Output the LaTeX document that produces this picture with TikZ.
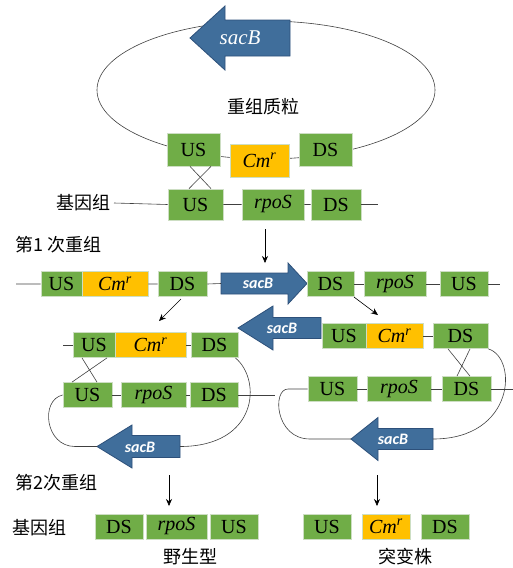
\documentclass[tikz,border=0pt]{standalone}
\usepackage{fontspec}
\setmainfont{Liberation Serif}
\newfontfamily\genefont{Liberation Serif}
\newfontfamily\sacfont{Carlito}
\newfontfamily\cjk{Noto Sans CJK SC}
\usetikzlibrary{arrows.meta}
\definecolor{genegreen}{RGB}{112,173,71}
\definecolor{geneedge}{RGB}{205,222,195}
\definecolor{cmorange}{RGB}{255,192,0}
\definecolor{sacblue}{RGB}{64,110,155}
\definecolor{sacedge}{RGB}{45,80,122}
\newcommand{\cmres}{\textit{Cm}\textsuperscript{\textit{r}}}
\tikzset{
  gbox/.style={fill=genegreen,draw=geneedge,line width=0.8pt,inner sep=0pt,
    minimum height=25,font=\genefont\fontsize{20}{22}\selectfont},
  cbox/.style={gbox,fill=cmorange},
  dna/.style={line width=0.6pt,black!75},
  sac/.style={fill=sacblue,draw=sacedge,line width=0.8pt},
  sactext/.style={text=white,inner sep=0pt,font=\sacfont\bfseries\itshape\fontsize{16}{18}\selectfont},
  lab/.style={inner sep=0pt,font=\cjk\fontsize{18}{21}\selectfont},
  pointer/.style={-{Stealth[length=7pt,width=6pt]},line width=0.6pt}
}
\begin{document}
\begin{tikzpicture}[x=1pt,y=-1pt]
\useasboundingbox (0,0) rectangle (513,568);
% plasmid
\draw[dna] (266,90) ellipse [x radius=169, y radius=69];
\draw[sac] (190,38)--(225,6)--(225,20)--(290,20)--(290,56)--(225,56)--(225,70)--cycle;
\node[text=white,inner sep=0pt,font=\genefont\itshape\fontsize{21}{24}\selectfont] (sacP) at (240,38) {sacB};
\node[lab] (plasmid) at (263,107) {重组质粒};
\node[gbox,minimum width=53,minimum height=33] (pUS) at (193.5,149.5) {US};
\node[cbox,minimum width=59,minimum height=33] (pCm) at (259.5,160.5) {\cmres};
\node[gbox,minimum width=53,minimum height=33] (pDS) at (325.5,149.5) {DS};
% genome
\node[lab,anchor=east] (genome) at (111,203) {基因组};
\node[gbox,minimum width=55,minimum height=31] (gUS) at (195.5,204.5) {US};
\node[gbox,minimum width=62,minimum height=31] (gRpo) at (273,204.5) {\textit{rpoS}};
\node[gbox,minimum width=50,minimum height=31] (gDS) at (336,204.5) {DS};
\draw[dna] ([xshift=3]genome.east)--(gUS.west) (gUS.east)--(gRpo.west) (gRpo.east)--(gDS.west);
\draw[dna] (gDS.east)--(378,204.5);
\draw[dna] ([xshift=-3.5]pUS.south)--([xshift=15.5]gUS.north);
\draw[dna] ([xshift=17.5]pUS.south)--([xshift=-6.5]gUS.north);
\coordinate (c1a) at (265,229);
\coordinate (c1b) at (265,263);
\draw[pointer] (c1a)--(c1b);
% first crossover
\node[lab,anchor=west] (first) at (15,245) {第1 次重组};
\node[gbox,minimum width=41] (r1US) at (61.5,284) {US};
\node[cbox,minimum width=66] (r1Cm) at (115,284) {\cmres};
\node[gbox,minimum width=49] (r1DS) at (182.5,284) {DS};
\draw[sac] (221,273)--(288,273)--(288,263)--(307,283.5)--(288,304)--(288,294)--(221,294)--cycle;
\coordinate (s1l) at (221,283.5);
\node[sactext] (sac1) at (258,283) {sacB};
\node[gbox,minimum width=47] (r1DSb) at (330.5,284) {DS};
\node[gbox,minimum width=62] (r1Rpo) at (395,284) {\textit{rpoS}};
\node[gbox,minimum width=48] (r1USb) at (464,284) {US};
\draw[dna] (16,284)--(r1US.west) (r1Cm.east)--(r1DS.west) (r1DS.east)--(s1l);
\draw[dna] (r1DSb.east)--(r1Rpo.west) (r1Rpo.east)--(r1USb.west) (r1USb.east)--(500,284);
\coordinate (c2a) at (181,299);
\coordinate (c2b) at (159,321);
\coordinate (c3a) at (354,297);
\coordinate (c3b) at (378,315);
\draw[pointer] (c2a)--(c2b);
\draw[pointer] (c3a)--(c3b);
% left branch
\node[gbox,minimum width=42] (aUS) at (94,345) {US};
\node[cbox,minimum width=71] (aCm) at (150.5,345) {\cmres};
\node[gbox,minimum width=47] (aDS) at (214.5,345) {DS};
\node[gbox,minimum width=49] (bUS) at (87.5,395) {US};
\node[gbox,minimum width=65] (bRpo) at (153.5,395) {\textit{rpoS}};
\node[gbox,minimum width=48] (bDS) at (214,395) {DS};
\draw[dna] (63,345)--(aUS.west) (aCm.east)--(aDS.west);
\draw[dna] (bUS.east)--(bRpo.west) (bRpo.east)--(bDS.west) (bDS.east)--(275,395);
\draw[dna] ([xshift=-12]aUS.south)--([xshift=9.5]bUS.north);
\draw[dna] ([xshift=13]aUS.south)--([xshift=-15.5]bUS.north);
\draw[sac] (97,446.5)--(132,425)--(132,435.5)--(180,435.5)--(180,457.5)--(132,457.5)--(132,468)--cycle;
\coordinate (s3t) at (97,446.5);
\coordinate (s3r) at (180,446.5);
\node[sactext] (sac3) at (140,447) {sacB};
\draw[dna] ([xshift=-3]aDS.south east) .. controls (262,380) and (258,446.5) .. (s3r);
\draw[dna] (s3t)--(75,446.5) .. controls (45,446.5) and (40,400) .. (bUS.west);
% right branch
\draw[sac] (238,328)--(273,306)--(273,317.5)--(321,317.5)--(321,338.5)--(273,338.5)--(273,350)--cycle;
\node[sactext] (sac2) at (282,328) {sacB};
\node[gbox,minimum width=44] (cUS) at (344,336) {US};
\node[cbox,minimum width=57] (cCm) at (394.5,336) {\cmres};
\node[gbox,minimum width=55] (cDS) at (460.5,336) {DS};
\node[gbox,minimum width=49] (dUS) at (332.5,389) {US};
\node[gbox,minimum width=64] (dRpo) at (399,389) {\textit{rpoS}};
\node[gbox,minimum width=49] (dDS) at (466.5,389) {DS};
\draw[dna] (cCm.east)--(cDS.west);
\draw[dna] (dUS.east)--(dRpo.west) (dRpo.east)--(dDS.west) (dDS.east)--(513,389);
\draw[dna] ([xshift=-12.5]cDS.south)--([xshift=3.5]dDS.north);
\draw[dna] ([xshift=9.5]cDS.south)--([xshift=-9.5]dDS.north);
\draw[sac] (351,439)--(378,417.5)--(378,428.5)--(433,428.5)--(433,449.5)--(378,449.5)--(378,460.5)--cycle;
\coordinate (s4t) at (351,439);
\coordinate (s4r) at (433,439);
\node[sactext] (sac4) at (393,439) {sacB};
\draw[dna] (cDS.south east) .. controls (518,358) and (515,439) .. (s4r);
\draw[dna] (s4t)--(310,439) .. controls (275,439) and (272,389) .. (288,389)--(dUS.west);
% second crossover
\node[lab,anchor=west] (second) at (15,483) {第2次重组};
\coordinate (c4a) at (169,475);
\coordinate (c4b) at (169,506);
\coordinate (c5a) at (377,475);
\coordinate (c5b) at (377,506);
\draw[pointer] (c4a)--(c4b);
\draw[pointer] (c5a)--(c5b);
\node[lab,anchor=west] (genome2) at (12,528) {基因组};
\node[gbox,minimum width=48] (wDS) at (119,526.5) {DS};
\node[gbox,minimum width=61] (wRpo) at (176.5,526.5) {\textit{rpoS}};
\node[gbox,minimum width=48] (wUS) at (234,526.5) {US};
\node[gbox,minimum width=48] (mUS) at (327,526.5) {US};
\node[cbox,minimum width=48] (mCm) at (386,526.5) {\cmres};
\node[gbox,minimum width=48] (mDS) at (445,526.5) {DS};
\node[lab] (wild) at (190,557) {野生型};
\node[lab] (mutant) at (405,557) {突变株};
\end{tikzpicture}
\end{document}
